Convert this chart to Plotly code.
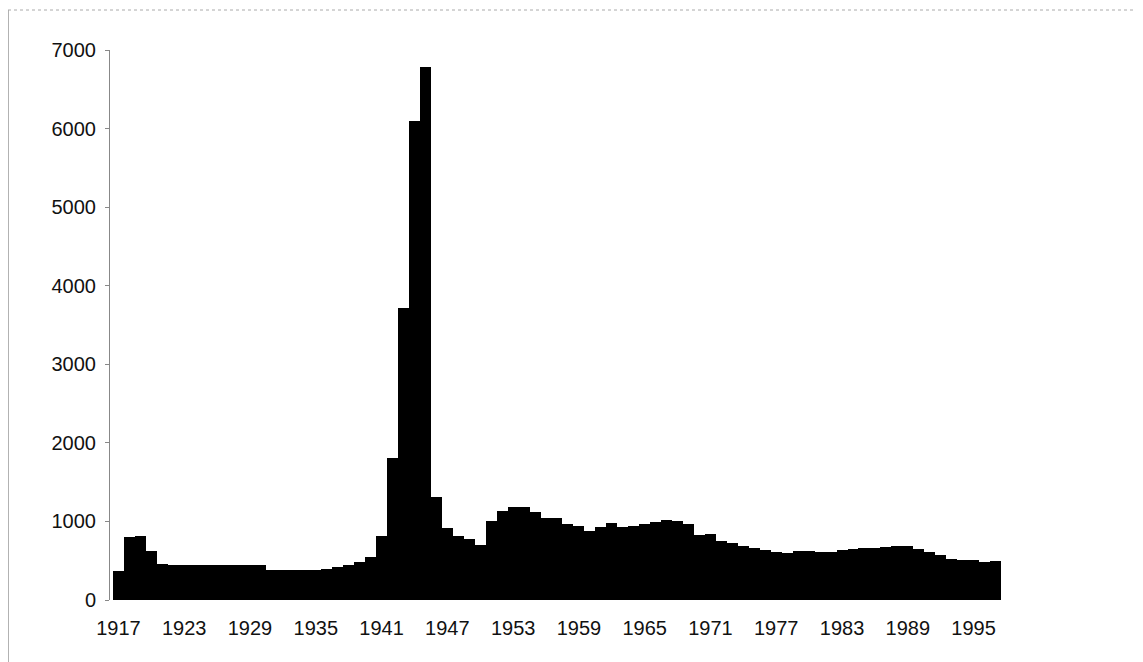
import plotly.graph_objects as go

years = list(range(1917, 1998))
values = [
    370, 800, 810, 630, 455, 450, 450, 445, 445, 445,   # 1917-1926
    445, 445, 445, 440, 380, 380, 385, 385, 385, 390,   # 1927-1936
    415, 450, 480, 545, 810, 1810, 3720, 6100, 6790, 1310,  # 1937-1946
    920, 815, 773, 705, 1010, 1128, 1190, 1180, 1115, 1050,  # 1947-1956
    1040, 963, 938, 875, 925, 976, 925, 938, 963, 989,   # 1957-1966
    1014, 1001, 963, 824, 836, 750, 725, 689, 668, 634,  # 1967-1976
    612, 604, 625, 625, 612, 612, 638, 646, 659, 668,    # 1977-1986
    680, 685, 689, 655, 612, 570, 528, 507, 505, 486,    # 1987-1996
    497,                                                 # 1997
]
tick_years = list(range(1917, 1998, 6))
y_ticks = [0, 1000, 2000, 3000, 4000, 5000, 6000, 7000]

L, R, T, B = 102, 142, 42, 62
W, H = 1135, 654
PW, PH = W - L - R, H - T - B

fig = go.Figure(
    go.Bar(
        x=years,
        y=values,
        marker=dict(color="#000000", line=dict(width=0)),
        hoverinfo="x+y",
    )
)

fig.update_layout(
    width=W,
    height=H,
    margin=dict(l=L, r=R, t=T, b=B),
    paper_bgcolor="white",
    plot_bgcolor="white",
    bargap=0,
    showlegend=False,
    font=dict(family="Liberation Sans, Arial, sans-serif", size=20, color="#111111"),
    xaxis=dict(
        range=[1916.23, 1997.5],
        tickmode="array",
        tickvals=tick_years,
        ticktext=[str(t) for t in tick_years],
        showgrid=False,
        zeroline=False,
        showline=False,
        ticks="",
        ticklabelstandoff=14,
        tickfont=dict(size=20),
    ),
    yaxis=dict(
        range=[0, 7000],
        tickmode="array",
        tickvals=y_ticks,
        ticktext=[str(t) for t in y_ticks],
        showgrid=False,
        zeroline=False,
        showline=True,
        linecolor="#888888",
        linewidth=1,
        ticks="outside",
        ticklen=4,
        tickcolor="#888888",
        ticklabelstandoff=5,
        tickfont=dict(size=20),
    ),
    shapes=[
        dict(type="line", xref="paper", yref="paper",
             x0=-L / PW, x1=-L / PW, y0=-B / PH, y1=1 + (T - 2) / PH,
             line=dict(color="#666666", width=1)),
        dict(type="line", xref="paper", yref="paper",
             x0=-L / PW, x1=1 + R / PW, y0=1 + (T - 2) / PH, y1=1 + (T - 2) / PH,
             line=dict(color="#aaaaaa", width=1, dash="dot")),
    ],
)

fig.write_html("out.html")
